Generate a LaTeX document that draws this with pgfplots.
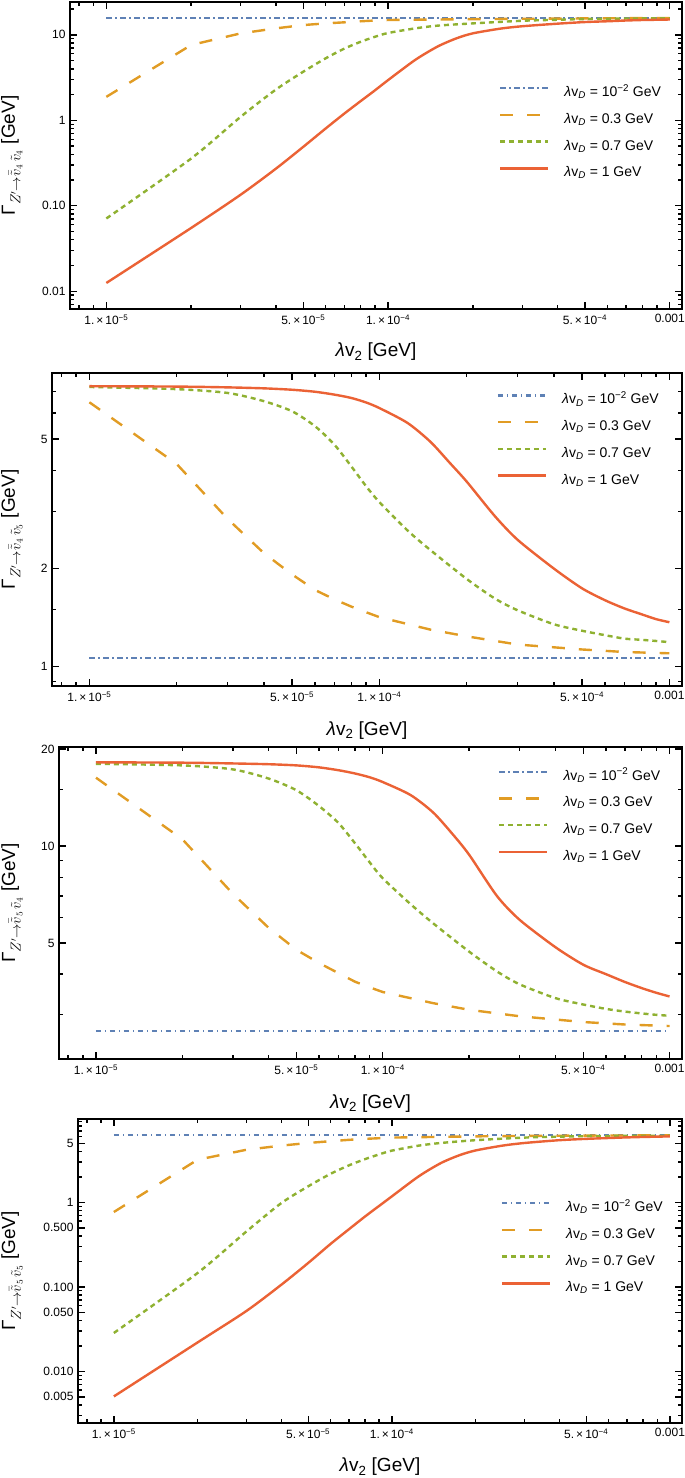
\documentclass[border=0pt]{standalone}
\usepackage{fontspec}
\setmainfont{Liberation Sans}
\usepackage{pgfplots}
\pgfplotsset{compat=1.18}
\definecolor{cB}{HTML}{5E81B5}
\definecolor{cO}{HTML}{E19C24}
\definecolor{cG}{HTML}{8FB131}
\definecolor{cR}{HTML}{EB6235}
\pgfplotsset{
  legend image code/.code={\draw[#1] (0pt,5pt) -- (48pt,5pt);},
  scale only axis,
  xmin=7.43e-6, xmax=1.105e-3,
  axis line style={line width=2.8pt, black},
  tick style={black, line width=1.4pt},
  major tick length=7pt, minor tick length=4pt,
  xtick={1e-5,5e-5,1e-4,5e-4,1e-3},
  xticklabels={1.\,×\,10\textsuperscript{−5}, 5.\,×\,10\textsuperscript{−5}, 1.\,×\,10\textsuperscript{−4}, 5.\,×\,10\textsuperscript{−4}, 0.001},
  minor xtick={8e-6,9e-6,2e-5,3e-5,4e-5,6e-5,7e-5,8e-5,9e-5,2e-4,3e-4,4e-4,6e-4,7e-4,8e-4,9e-4},
  tick label style={font=\fontsize{12}{14}\selectfont},
  xticklabel style={yshift=-2pt},
  yticklabel style={xshift=-1pt},
  xlabel={{\itshape λ}v\textsubscript{2} [GeV]},
  xlabel style={at={(axis description cs:0.5,0)}, anchor=north, inner sep=0pt, font=\fontsize{19}{22}\selectfont},
  ylabel style={anchor=north, inner sep=0pt, font=\fontsize{19}{22}\selectfont},
  legend cell align=left,
  legend style={draw=none, fill=none, inner sep=0pt, outer sep=0pt, anchor=north west,
     row sep=13.7pt, column sep=15pt, font=\fontsize{14}{16}\selectfont,
     nodes={inner sep=0pt, text height=10pt, text depth=3pt}},
}
\tikzset{
 sB/.style={cB, line width=2.2pt, dash pattern=on 5.5pt off 3.5pt on 1.5pt off 3.5pt},
 sO/.style={cO, line width=2.4pt, dash pattern=on 13pt off 14pt},
 sG/.style={cG, line width=2.4pt, dash pattern=on 5pt off 4pt, smooth, tension=0.45},
 sR/.style={cR, line width=2.4pt, line join=round, smooth, tension=0.45},
}
\newcommand{\lvd}{{\itshape λ}v\textsubscript{\itshape D}}
\begin{document}
\begin{tikzpicture}
\useasboundingbox (0pt,0pt) rectangle (685pt,-1478pt);
% ---------------- Panel 1
\begin{loglogaxis}[at={(70pt,-309pt)}, anchor=south west, width=612pt, height=307pt,
  ymin=0.0062, ymax=24.2,
  ytick={0.01,0.1,1,10}, yticklabels={0.01,0.10,1,10},
  minor ytick={0.007,0.008,0.009,0.02,0.03,0.04,0.05,0.06,0.07,0.08,0.09,0.2,0.3,0.4,0.5,0.6,0.7,0.8,0.9,2,3,4,5,6,7,8,9,20},
  xlabel style={yshift=-34pt},
  ylabel={Γ${}_{Z'\to\bar{\tilde{v}}_4\,\tilde{v}_4}$ [GeV]},
  ylabel style={at={(axis description cs:-0.113,0.5)}},
  legend style={at={(0.701,0.724)}}]
\addplot[sB] coordinates {(1e-5,15.8) (1e-3,15.8)};
\addlegendentry{\lvd{} = 10\textsuperscript{−2} GeV}
\addplot[sO] coordinates {(1e-5,1.88) (2e-5,7.6) (3e-5,10.4) (4e-5,11.9) (5e-5,13.0) (6e-5,13.6) (7e-5,14.0) (8e-5,14.4) (9e-5,14.7) (1e-4,14.9) (1.5e-4,15.1) (2e-4,15.25) (3e-4,15.4) (5e-4,15.55) (7e-4,15.65) (1e-3,15.7)};
\addlegendentry{\lvd{} = 0.3 GeV}
\addplot[sG] coordinates {(1e-5,0.071) (2e-5,0.357) (3e-5,1.1) (4e-5,2.29) (5e-5,3.7) (6e-5,5.3) (7e-5,6.9) (8e-5,8.3) (9e-5,9.5) (1e-4,10.5) (1.25e-4,11.9) (1.5e-4,12.8) (2e-4,13.6) (3e-4,14.6) (4e-4,15.0) (5e-4,15.3) (7e-4,15.5) (1e-3,15.6)};
\addlegendentry{\lvd{} = 0.7 GeV}
\addplot[sR] coordinates {(1e-5,0.0125) (2e-5,0.055) (3e-5,0.135) (4e-5,0.272) (5e-5,0.489) (6e-5,0.80) (7e-5,1.20) (8e-5,1.68) (9e-5,2.25) (1e-4,2.95) (1.25e-4,5.1) (1.5e-4,7.3) (1.75e-4,9.1) (2e-4,10.4) (2.5e-4,11.8) (3e-4,12.6) (4e-4,13.5) (5e-4,14.1) (6e-4,14.4) (7e-4,14.7) (8e-4,14.9) (9e-4,15.0) (1e-3,15.1)};
\addlegendentry{\lvd{} = 1 GeV}
\end{loglogaxis}
% ---------------- Panel 2
\begin{loglogaxis}[at={(52pt,-686pt)}, anchor=south west, width=630pt, height=313pt,
  ymin=0.873, ymax=7.97,
  ytick={1,2,5}, yticklabels={1,2,5},
  minor ytick={0.9,1.5,3,4,6,7},
  xlabel style={yshift=-35.5pt},
  ylabel={Γ${}_{Z'\to\bar{\tilde{v}}_4\,\tilde{v}_5}$ [GeV]},
  ylabel style={at={(axis description cs:-0.081,0.5)}},
  legend style={at={(0.706,0.933)}}]
\addplot[sB] coordinates {(1e-5,1.063) (1e-3,1.063)};
\addlegendentry{\lvd{} = 10\textsuperscript{−2} GeV}
\addplot[sO] coordinates {(1e-5,6.48) (2e-5,4.19) (3e-5,2.84) (4e-5,2.23) (5e-5,1.92) (6e-5,1.72) (7e-5,1.61) (8e-5,1.53) (9e-5,1.47) (1e-4,1.42) (1.5e-4,1.30) (2e-4,1.24) (3e-4,1.17) (5e-4,1.13) (7e-4,1.11) (1e-3,1.10)};
\addlegendentry{\lvd{} = 0.3 GeV}
\addplot[sG] coordinates {(1e-5,7.22) (2e-5,7.11) (3e-5,6.92) (4e-5,6.53) (5e-5,6.08) (6e-5,5.47) (7e-5,4.8) (8e-5,4.12) (9e-5,3.58) (1e-4,3.2) (1.25e-4,2.62) (1.5e-4,2.28) (2e-4,1.86) (2.5e-4,1.62) (3e-4,1.49) (4e-4,1.35) (5e-4,1.29) (6e-4,1.25) (7e-4,1.22) (8e-4,1.21) (9e-4,1.20) (1e-3,1.19)};
\addlegendentry{\lvd{} = 0.7 GeV}
\addplot[sR] coordinates {(1e-5,7.26) (2e-5,7.24) (3e-5,7.2) (4e-5,7.15) (5e-5,7.08) (6e-5,6.98) (7e-5,6.84) (8e-5,6.68) (9e-5,6.47) (1e-4,6.22) (1.25e-4,5.6) (1.5e-4,4.9) (1.75e-4,4.22) (2e-4,3.7) (2.5e-4,2.9) (3e-4,2.45) (4e-4,2.0) (5e-4,1.74) (6e-4,1.6) (7e-4,1.51) (8e-4,1.45) (9e-4,1.40) (1e-3,1.37)};
\addlegendentry{\lvd{} = 1 GeV}
\end{loglogaxis}
% ---------------- Panel 3
\begin{loglogaxis}[at={(59pt,-1059pt)}, anchor=south west, width=623pt, height=312pt,
  ymin=2.18, ymax=20.3,
  ytick={5,10,20}, yticklabels={5,10,20},
  minor ytick={3,4,6,7,8,9,15},
  xlabel style={yshift=-35.5pt},
  ylabel={Γ${}_{Z'\to\bar{\tilde{v}}_5\,\tilde{v}_4}$ [GeV]},
  ylabel style={at={(axis description cs:-0.093,0.5)}},
  legend style={at={(0.705,0.926)}}]
\addplot[sB] coordinates {(1e-5,2.67) (1e-3,2.67)};
\addlegendentry{\lvd{} = 10\textsuperscript{−2} GeV}
\addplot[sO] coordinates {(1e-5,16.3) (2e-5,10.5) (3e-5,7.11) (4e-5,5.57) (5e-5,4.76) (6e-5,4.33) (7e-5,4.03) (8e-5,3.79) (9e-5,3.64) (1e-4,3.52) (1.5e-4,3.25) (2e-4,3.1) (3e-4,2.96) (5e-4,2.84) (7e-4,2.79) (1e-3,2.76)};
\addlegendentry{\lvd{} = 0.3 GeV}
\addplot[sG] coordinates {(1e-5,18.0) (2e-5,17.8) (3e-5,17.3) (4e-5,16.2) (5e-5,14.9) (6e-5,13.3) (7e-5,11.8) (8e-5,10.2) (9e-5,8.9) (1e-4,7.94) (1.25e-4,6.6) (1.5e-4,5.75) (2e-4,4.7) (2.5e-4,4.08) (3e-4,3.72) (4e-4,3.37) (5e-4,3.22) (6e-4,3.12) (7e-4,3.06) (8e-4,3.02) (9e-4,2.99) (1e-3,2.97)};
\addlegendentry{\lvd{} = 0.7 GeV}
\addplot[sR] coordinates {(1e-5,18.2) (2e-5,18.15) (3e-5,18.05) (4e-5,17.95) (5e-5,17.8) (6e-5,17.55) (7e-5,17.2) (8e-5,16.8) (9e-5,16.35) (1e-4,15.8) (1.25e-4,14.4) (1.5e-4,12.7) (1.75e-4,10.9) (2e-4,9.4) (2.5e-4,7.0) (3e-4,5.9) (4e-4,4.85) (5e-4,4.28) (6e-4,4.0) (7e-4,3.78) (8e-4,3.62) (9e-4,3.5) (1e-3,3.41)};
\addlegendentry{\lvd{} = 1 GeV}
\end{loglogaxis}
% ---------------- Panel 4
\begin{loglogaxis}[at={(78pt,-1423pt)}, anchor=south west, width=604pt, height=304pt,
  ymin=0.00245, ymax=9.7,
  ytick={0.005,0.01,0.05,0.1,0.5,1,5}, yticklabels={0.005,0.010,0.050,0.100,0.500,1,5},
  minor ytick={0.003,0.004,0.006,0.007,0.008,0.009,0.02,0.03,0.04,0.06,0.07,0.08,0.09,0.2,0.3,0.4,0.6,0.7,0.8,0.9,2,3,4,6,7,8,9},
  xlabel style={yshift=-35pt},
  ylabel={Γ${}_{Z'\to\bar{\tilde{v}}_5\,\tilde{v}_5}$ [GeV]},
  ylabel style={at={(axis description cs:-0.127,0.5)}},
  legend style={at={(0.70,0.728)}}]
\addplot[sB] coordinates {(1e-5,6.3) (1e-3,6.3)};
\addlegendentry{\lvd{} = 10\textsuperscript{−2} GeV}
\addplot[sO] coordinates {(1e-5,0.77) (2e-5,3.2) (3e-5,4.2) (4e-5,4.7) (5e-5,5.05) (6e-5,5.3) (7e-5,5.5) (8e-5,5.65) (9e-5,5.75) (1e-4,5.85) (1.5e-4,5.97) (2e-4,6.05) (3e-4,6.12) (5e-4,6.18) (7e-4,6.2) (1e-3,6.22)};
\addlegendentry{\lvd{} = 0.3 GeV}
\addplot[sG] coordinates {(1e-5,0.0285) (2e-5,0.146) (3e-5,0.454) (4e-5,0.98) (5e-5,1.55) (6e-5,2.17) (7e-5,2.74) (8e-5,3.25) (9e-5,3.7) (1e-4,4.1) (1.25e-4,4.7) (1.5e-4,5.05) (2e-4,5.45) (3e-4,5.85) (4e-4,6.0) (5e-4,6.08) (7e-4,6.13) (1e-3,6.16)};
\addlegendentry{\lvd{} = 0.7 GeV}
\addplot[sR] coordinates {(1e-5,0.00506) (2e-5,0.022) (3e-5,0.052) (4e-5,0.106) (5e-5,0.192) (6e-5,0.32) (7e-5,0.48) (8e-5,0.68) (9e-5,0.91) (1e-4,1.18) (1.25e-4,2.04) (1.5e-4,2.92) (1.75e-4,3.62) (2e-4,4.12) (2.5e-4,4.7) (3e-4,5.05) (4e-4,5.45) (5e-4,5.65) (6e-4,5.78) (7e-4,5.88) (8e-4,5.95) (9e-4,6.0) (1e-3,6.04)};
\addlegendentry{\lvd{} = 1 GeV}
\end{loglogaxis}
\end{tikzpicture}
\end{document}
